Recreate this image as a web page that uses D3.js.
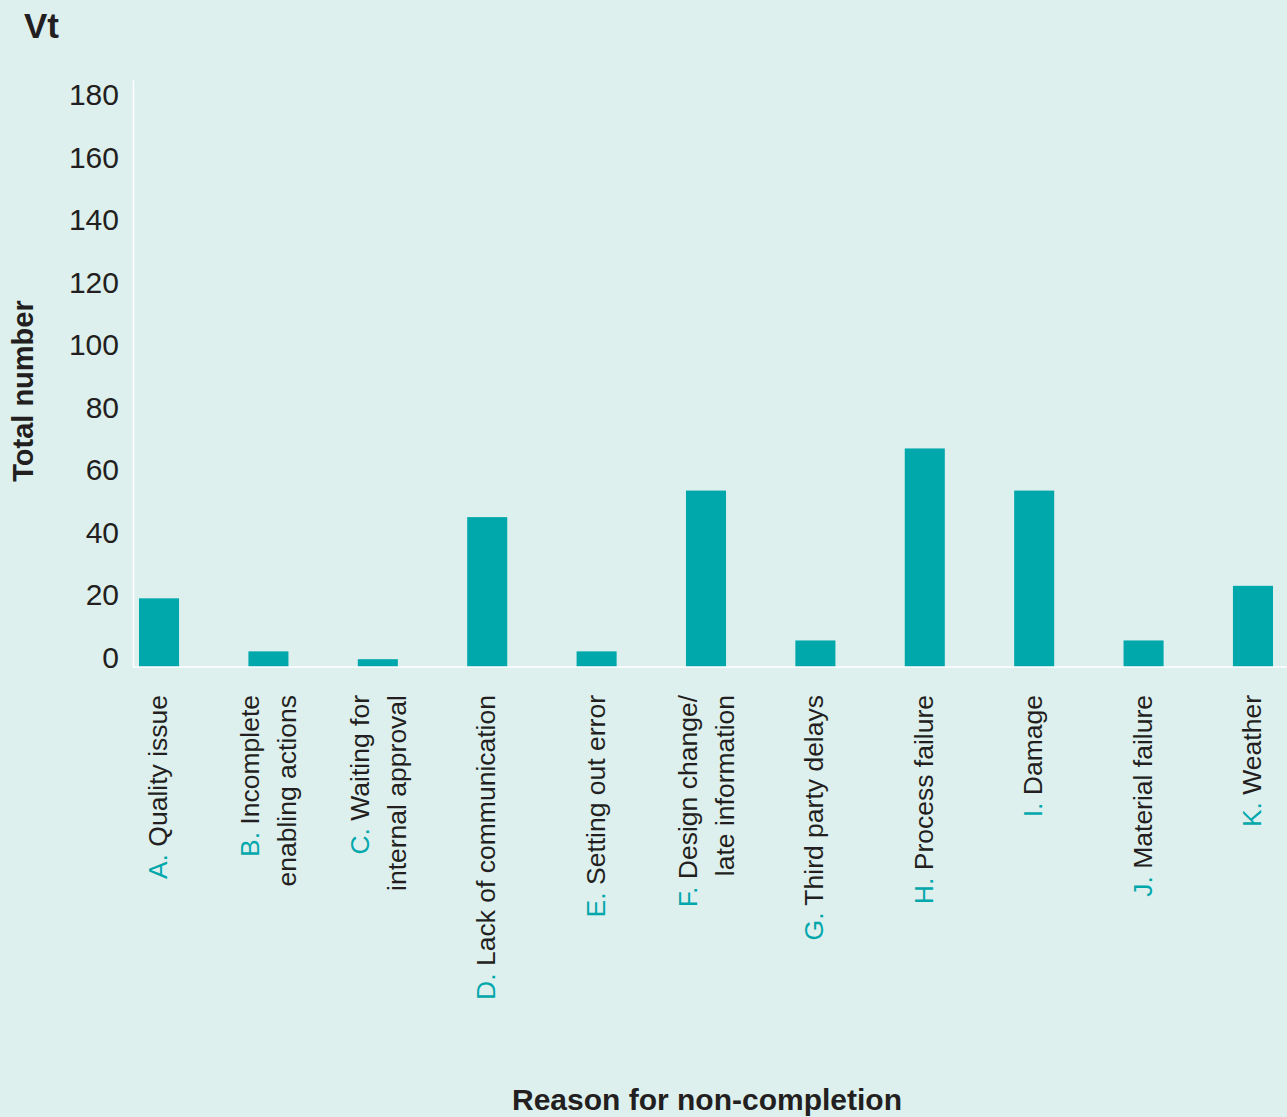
<!DOCTYPE html>
<html>
<head>
<meta charset="utf-8">
<script src="https://cdn.jsdelivr.net/npm/d3@7"></script>
<style>
  html, body { margin: 0; padding: 0; background: #ddf0ee; }
  svg { display: block; font-family: "Liberation Sans", Arial, Helvetica, sans-serif; }
</style>
</head>
<body>
<div id="chart"></div>
<script>
// reasons for non-completion
const letters = ["A.", "B.", "C.", "D.", "E.", "F.", "G.", "H.", "I.", "J.", "K."];
const reasonLines = [
  ["Quality issue"],
  ["Incomplete", "enabling actions"],
  ["Waiting for", "internal approval"],
  ["Lack of communication"],
  ["Setting out error"],
  ["Design change/", "late information"],
  ["Third party delays"],
  ["Process failure"],
  ["Damage"],
  ["Material failure"],
  ["Weather"]
];
const totals = [22, 5, 2.5, 48, 5, 56.5, 8.5, 70, 56.5, 8.5, 26];
const yTicks = [0, 20, 40, 60, 80, 100, 120, 140, 160, 180];

const width = 1287;
const height = 1117;
const teal = "#00a7ab";
const ink = "#231f20";

const svg = d3.select("#chart")
  .append("svg")
  .attr("width", width)
  .attr("height", height);

const plotLeft = 133, plotRight = 1279, plotBase = 667, plotTop = 80;

const x = d3.scaleBand()
  .domain(letters)
  .range([plotLeft, plotRight])
  .paddingInner(0.634)
  .paddingOuter(0.055);

const y = d3.scaleLinear()
  .domain([0, 188])
  .range([plotBase, plotTop]);

// bars
svg.append("g")
  .selectAll("rect")
  .data(totals)
  .enter()
  .append("rect")
  .attr("x", (d, i) => x(letters[i]))
  .attr("width", x.bandwidth())
  .attr("y", d => y(d))
  .attr("height", d => y(0) - y(d))
  .attr("fill", teal);

// y axis
const yAxis = svg.append("g")
  .attr("transform", "translate(" + plotLeft + ",0)")
  .call(d3.axisLeft(y).tickValues(yTicks).tickSize(0).tickSizeOuter(0).tickPadding(14));
yAxis.select(".domain").attr("stroke", "#ffffff").attr("stroke-width", 1.5);
yAxis.selectAll("text")
  .attr("dy", 0)
  .attr("fill", ink)
  .style("font-size", "30px")
  .style("font-family", "'Liberation Sans', Arial, sans-serif");

// x axis line runs to the right edge
svg.append("line")
  .attr("x1", plotLeft)
  .attr("x2", width)
  .attr("y1", y(0))
  .attr("y2", y(0))
  .attr("stroke", "#ffffff")
  .attr("stroke-width", 1.5);

// category labels, rotated, reading upwards
const labelTop = 695;
const cats = svg.append("g").selectAll("g")
  .data(letters)
  .enter()
  .append("g")
  .attr("transform", d => "translate(" + (x(d) + x.bandwidth() / 2) + "," + labelTop + ") rotate(-90)");

cats.each(function (d, i) {
  const g = d3.select(this);
  const lines = reasonLines[i];
  const offsets = lines.length === 1 ? [8] : [-9, 28];
  lines.forEach(function (line, j) {
    const t = g.append("text")
      .attr("x", 0)
      .attr("y", offsets[j])
      .attr("text-anchor", "end")
      .attr("fill", ink)
      .style("font-size", "26.5px");
    if (j === 0) {
      t.append("tspan").attr("fill", teal).text(d + " ");
    }
    t.append("tspan").text(line);
  });
});

// titles
svg.append("text")
  .attr("x", 24)
  .attr("y", 38)
  .attr("fill", ink)
  .style("font-size", "35px")
  .style("font-weight", "bold")
  .text("Vt");

svg.append("text")
  .attr("transform", "translate(33,391) rotate(-90)")
  .attr("text-anchor", "middle")
  .attr("fill", ink)
  .style("font-size", "29px")
  .style("font-weight", "bold")
  .text("Total number");

svg.append("text")
  .attr("x", 707)
  .attr("y", 1110)
  .attr("text-anchor", "middle")
  .attr("fill", ink)
  .style("font-size", "30px")
  .style("font-weight", "bold")
  .text("Reason for non-completion");
</script>
</body>
</html>
